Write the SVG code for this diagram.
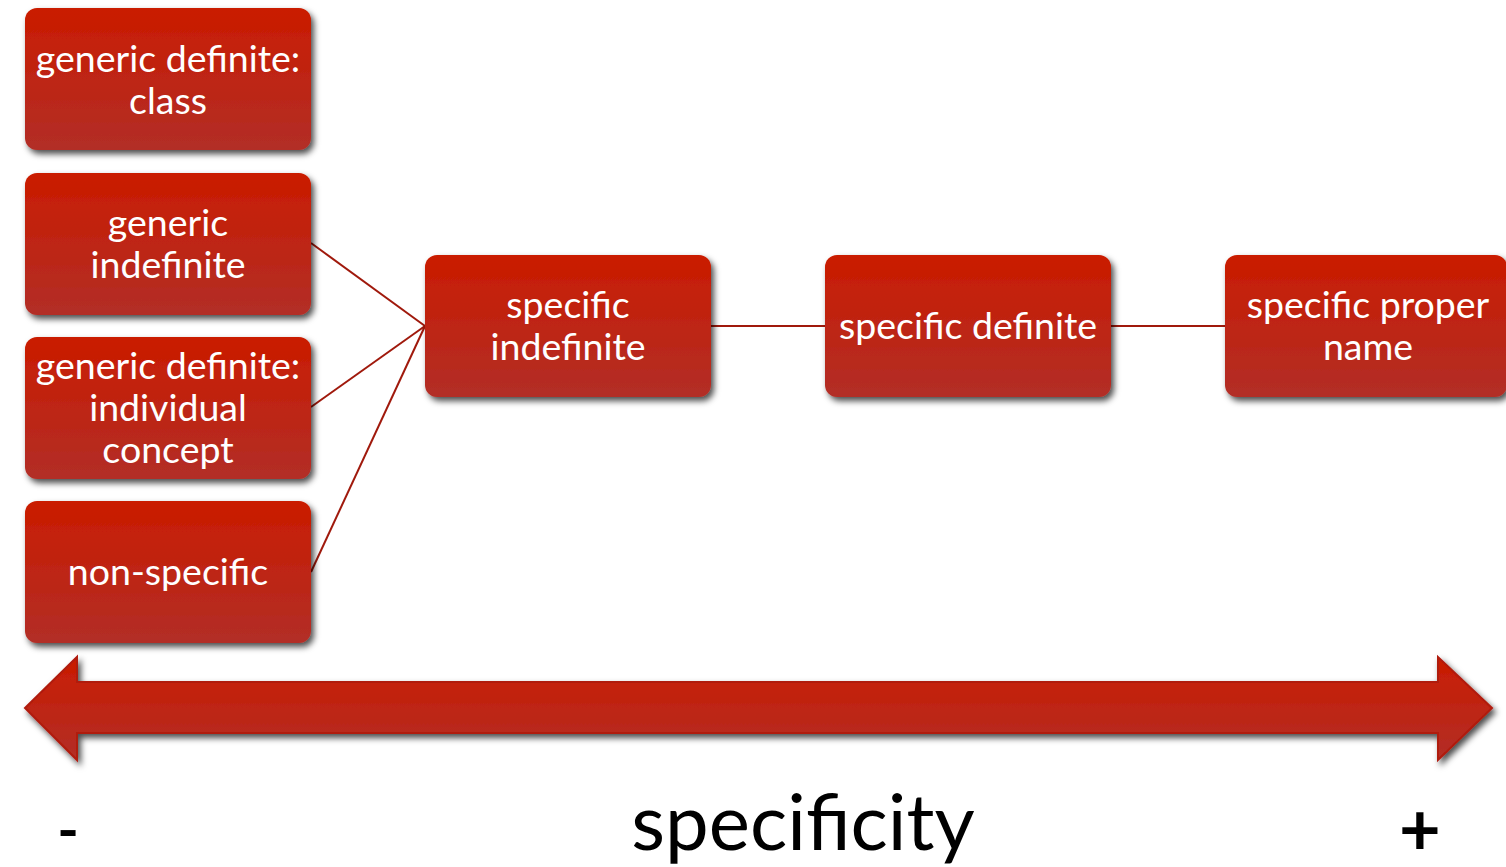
<svg xmlns="http://www.w3.org/2000/svg" width="1506" height="867" viewBox="0 0 1506 867">
<defs>
<linearGradient id="g" x1="0" y1="0" x2="0" y2="1">
<stop offset="0" stop-color="#CA1C00"/>
<stop offset="1" stop-color="#B22E27"/>
</linearGradient>
<filter id="sh" x="-10%" y="-10%" width="125%" height="130%">
<feDropShadow dx="3" dy="4" stdDeviation="3" flood-color="#000" flood-opacity="0.7"/>
</filter>
<style>
.box{fill:url(#g);filter:url(#sh)}
.t{font-family:Lato,"Liberation Sans",sans-serif;font-size:37.5px;fill:#fff;text-anchor:middle}
.c{stroke:#A0190C;stroke-width:2;fill:none}
.lbl{font-family:Lato,"Liberation Sans",sans-serif;fill:#000;text-anchor:middle}
</style>
</defs>
<rect width="1506" height="867" fill="#fff"/>
<g id="connectors">
<line class="c" x1="311" y1="243" x2="425" y2="326"/>
<line class="c" x1="311" y1="407" x2="425" y2="326"/>
<line class="c" x1="311" y1="572" x2="425" y2="326"/>
<line class="c" x1="711" y1="326" x2="825" y2="326"/>
<line class="c" x1="1111" y1="326" x2="1225" y2="326"/>
</g>
<g id="n1"><rect class="box" x="25" y="8" width="286" height="142" rx="12"/>
<text class="t" x="168" y="72">generic definite:</text><text class="t" x="168" y="114">class</text></g>
<g id="n2"><rect class="box" x="25" y="173" width="286" height="142" rx="12"/>
<text class="t" x="168" y="236">generic</text><text class="t" x="168" y="278">indefinite</text></g>
<g id="n3"><rect class="box" x="25" y="337" width="286" height="142" rx="12"/>
<text class="t" x="168" y="379">generic definite:</text><text class="t" x="168" y="421">individual</text><text class="t" x="168" y="463">concept</text></g>
<g id="n4"><rect class="box" x="25" y="501" width="286" height="142" rx="12"/>
<text class="t" x="168" y="585">non-specific</text></g>
<g id="n5"><rect class="box" x="425" y="255" width="286" height="142" rx="12"/>
<text class="t" x="568" y="318">specific</text><text class="t" x="568" y="360">indefinite</text></g>
<g id="n6"><rect class="box" x="825" y="255" width="286" height="142" rx="12"/>
<text class="t" x="968" y="339">specific definite</text></g>
<g id="n7"><rect class="box" x="1225" y="255" width="282" height="142" rx="12"/>
<text class="t" x="1368" y="318">specific proper</text><text class="t" x="1368" y="360">name</text></g>
<g id="axis">
<path d="M25,708 L77,657 L77,682 L1438,682 L1438,657 L1492,708 L1438,760 L1438,733 L77,733 L77,760 Z" fill="url(#g)" stroke="#B01A0A" stroke-width="2" filter="url(#sh)"/>
<text class="lbl" x="68" y="850" font-size="58" font-weight="bold">-</text>
<text class="lbl" x="1420" y="855" font-size="72" font-weight="bold">+</text>
<text class="lbl" x="803" y="850" font-size="78">specificity</text>
</g>
</svg>
